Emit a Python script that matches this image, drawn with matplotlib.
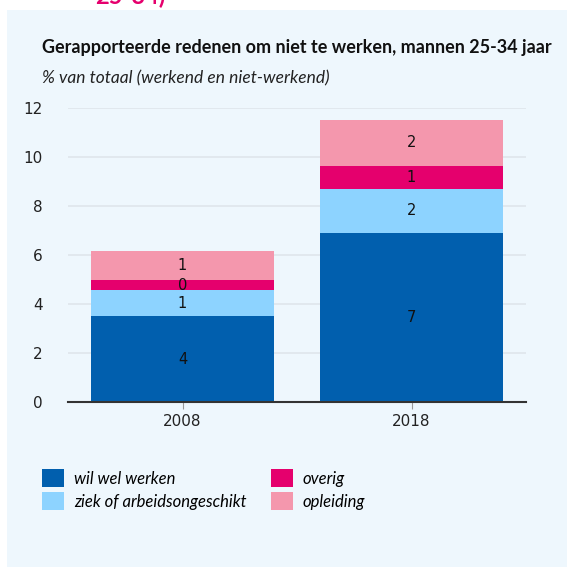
import matplotlib.pyplot as plt
from matplotlib.patches import Patch
import numpy as np

years = ['2008', '2018']
series = ['wil wel werken', 'ziek of arbeidsongeschikt', 'overig', 'opleiding']
wil_wel_werken = [3.5, 6.9]
ziek = [1.07, 1.8]
overig = [0.4, 0.94]
opleiding = [1.2, 1.88]
colors = ['#015fae', '#8dd3ff', '#e5006d', '#f497ad']

BG = '#eef7fd'

fig = plt.figure(figsize=(5.67, 5.67), dpi=100)
fig.patch.set_facecolor('white')
# light blue panel behind the chart
fig.patches.append(plt.Rectangle((7 / 567, 0), 1, 1 - 10 / 567, transform=fig.transFigure,
                                 facecolor=BG, edgecolor='none', zorder=-5))
# cut-off heading above the panel
fig.text(165 / 567, 1 - 4 / 567, '25-34)', color='#e5006d', fontsize=17,
         ha='right', va='baseline', family='Lato', fontweight='bold')

ax = fig.add_axes([68 / 567, 165 / 567, 458 / 567, 294 / 567])
ax.set_facecolor(BG)

x = np.arange(len(years))
bottom = np.zeros(len(years))
for vals, col in zip([wil_wel_werken, ziek, overig, opleiding], colors):
    vals = np.array(vals)
    ax.bar(x, vals, width=0.8, bottom=bottom, color=col, zorder=2)
    for xi, b, v in zip(x, bottom, vals):
        ax.text(xi, b + v / 2, f'{v:.0f}', ha='center', va='center',
                fontsize=10.5, color='#111111', zorder=3)
    bottom += vals

ax.set_xlim(-0.5, 1.5)
ax.set_ylim(0, 12)
ax.set_yticks(range(0, 13, 2))
ax.set_xticks(x)
ax.set_xticklabels(years)
ax.grid(axis='y', color='#dfe6ec', lw=1.2, zorder=0)
ax.set_axisbelow(True)
for s in ['left', 'right', 'top']:
    ax.spines[s].set_visible(False)
ax.spines['bottom'].set_color('#333333')
ax.spines['bottom'].set_linewidth(1.5)
ax.spines['bottom'].set_zorder(4)
ax.tick_params(axis='y', length=0, pad=18, labelsize=11, labelcolor='#222222')
ax.tick_params(axis='x', length=5, color='#999999', labelsize=11, labelcolor='#222222')

fig.text(42 / 567, 1 - 47 / 567, 'Gerapporteerde redenen om niet te werken, mannen 25-34 jaar',
         fontsize=13, fontweight='bold', family='Lato', va='center', color='#111111')
fig.text(42 / 567, 1 - 78 / 567, '% van totaal (werkend en niet-werkend)',
         fontsize=12.5, style='italic', family='Lato', va='center', color='#222222')

handles = [Patch(facecolor=c, edgecolor='none') for c in colors]
fig.legend(handles, series, ncol=2, loc='upper left', bbox_to_anchor=(42 / 567, 1 - 469 / 567),
           frameon=False, prop={'family': 'Lato', 'style': 'italic', 'size': 12},
           handlelength=1.3, handleheight=1.3, columnspacing=1.5, labelspacing=0.3,
           handletextpad=0.6, borderpad=0, borderaxespad=0)

fig.savefig('out.png', dpi=100, facecolor=fig.get_facecolor())
